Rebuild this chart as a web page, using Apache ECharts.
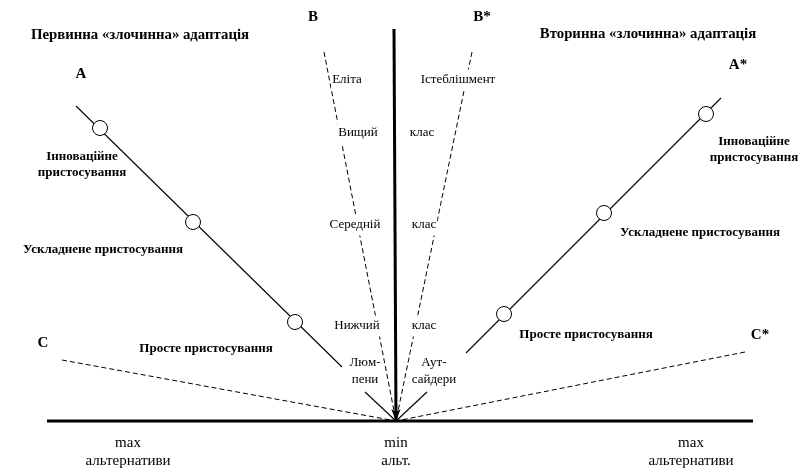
<!DOCTYPE html>
<html>
<head>
<meta charset="utf-8">
<script src="https://cdn.jsdelivr.net/npm/echarts@6/dist/echarts.min.js"></script>
<style>html,body{margin:0;padding:0;background:#fff;}#c{width:800px;height:468px;}</style>
</head>
<body>
<div id="c"></div>
<script>
// Diagram data (units: origin at the point where all rays meet, y up)
const primarySegments = [[[-320, 315], [-54, 54]], [[-31, 29], [0, 0]]];
const secondarySegments = [[[325, 323], [70, 68]], [[31, 29], [0, 0]]];
const primaryNodes = [[-296, 293], [-203, 199], [-101, 99]];
const secondaryNodes = [[310, 307], [208, 208], [108, 107]];
const dashedRayEnds = [[-72, 369], [76, 369], [-334, 61], [349, 69]];
const verticalAxis = [[-2, 392], [0, 0]];
const horizontalAxis = [[-349, 0], [357, 0]];

const titleLabels = [
  ['Первинна «злочинна» адаптація', -256, 386],
  ['Вторинна «злочинна» адаптація', 252, 387]
];
const letterLabels = [
  ['A', -315, 347], ['A*', 342, 356],
  ['B', -83, 404], ['B*', 86, 404],
  ['C', -353, 78], ['C*', 364, 86]
];
const adaptationLabels = [
  ['Інноваційне\nпристосування', -314, 256],
  ['Ускладнене пристосування', -293, 171],
  ['Просте пристосування', -190, 72],
  ['Інноваційне\nпристосування', 358, 271],
  ['Ускладнене пристосування', 304, 188],
  ['Просте пристосування', 190, 86]
];
const classLabels = [
  ['Еліта', -49, 341], ['Вищий', -38, 288], ['Середній', -41, 196], ['Нижчий', -39, 95], ['Люм-\nпени', -31, 50],
  ['Істеблішмент', 62, 341], ['клас', 26, 288], ['клас', 28, 196], ['клас', 28, 95], ['Аут-\nсайдери', 38, 50]
];
const axisLabels = [
  ['max\nальтернативи', -268, -31],
  ['min\nальт.', 0, -31],
  ['max\nальтернативи', 295, -31]
];

const FONT = "'Liberation Serif', 'Times New Roman', serif";
const series = [];

dashedRayEnds.forEach(function (end) {
  series.push({
    type: 'line', data: [end, [0, 0]], symbol: 'none', silent: true, z: 1,
    lineStyle: { color: '#000', width: 1, type: [5, 3] }
  });
});
primarySegments.concat(secondarySegments).forEach(function (seg) {
  series.push({
    type: 'line', data: seg, symbol: 'none', silent: true, z: 2,
    lineStyle: { color: '#000', width: 1.1 }
  });
});
series.push({
  type: 'line', data: horizontalAxis, symbol: 'none', silent: true, z: 3,
  lineStyle: { color: '#000', width: 3 }
});
series.push({
  type: 'line', data: [], symbol: 'none', silent: true, z: 3,
  markLine: {
    silent: true, symbol: ['none', 'arrow'], symbolSize: [7, 12], animation: false,
    label: { show: false },
    lineStyle: { color: '#000', width: 3, type: 'solid' },
    data: [[{ coord: verticalAxis[0] }, { coord: verticalAxis[1] }]]
  }
});
series.push({
  type: 'scatter', data: primaryNodes.concat(secondaryNodes), symbol: 'circle', symbolSize: 15, z: 4,
  silent: true, itemStyle: { color: '#fff', borderColor: '#000', borderWidth: 1, opacity: 1 }
});

function textSeries(list, style) {
  return {
    type: 'scatter', symbolSize: 0, silent: true, z: style.z || 5, clip: false,
    itemStyle: { opacity: 1 },
    data: list.map(function (t) { return { value: [t[1], t[2]], name: t[0] }; }),
    label: Object.assign({
      show: true, position: 'inside', formatter: function (p) { return p.name; },
      color: '#000', fontFamily: FONT, align: 'center', verticalAlign: 'middle'
    }, style.label)
  };
}
series.push(textSeries(titleLabels, { label: { fontSize: 14.8, fontWeight: 'bold' } }));
series.push(textSeries(letterLabels, { label: { fontSize: 15, fontWeight: 'bold' } }));
series.push(textSeries(adaptationLabels, { label: { fontSize: 13, fontWeight: 'bold', lineHeight: 16 } }));
series.push(textSeries(classLabels, { z: 2.5, label: { fontSize: 13, lineHeight: 17, backgroundColor: '#fff', padding: [2, 1] } }));
series.push(textSeries(axisLabels, { label: { fontSize: 15, lineHeight: 18 } }));

const chart = echarts.init(document.getElementById('c'), null, { renderer: 'canvas' });
chart.setOption({
  animation: false,
  backgroundColor: '#fff',
  grid: { left: 0, right: 0, top: 0, bottom: 0 },
  xAxis: { type: 'value', min: -396, max: 404, show: false },
  yAxis: { type: 'value', min: -47, max: 421, show: false },
  series: series
});
</script>
</body>
</html>
